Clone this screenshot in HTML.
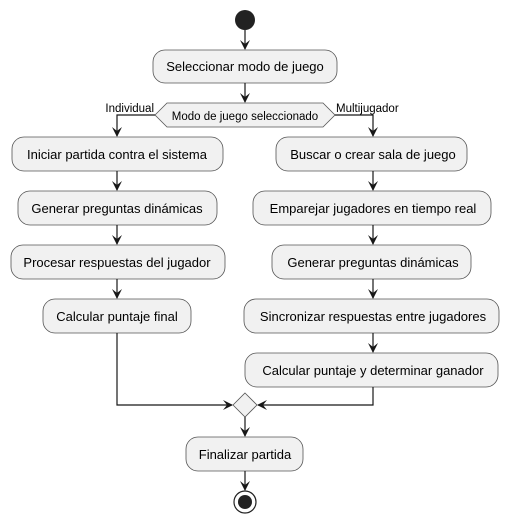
<!DOCTYPE html>
<html><head><meta charset="utf-8"><style>
html,body{margin:0;padding:0;background:#fff;}
svg{display:block;}
text{font-family:"Liberation Sans","DejaVu Sans",sans-serif;font-size:13px;fill:#000;}
.b{fill:#f1f1f1;stroke:#555;stroke-width:0.8;}
.l{stroke:#181818;stroke-width:1.2;fill:none;}
.a{fill:#181818;}
</style></head><body>
<svg width="509" height="523" viewBox="0 0 509 523" xmlns="http://www.w3.org/2000/svg">
<circle cx="245" cy="20" r="10" fill="#222"/>
<!-- arrows helper: polygon x-5,y-10 x,y x+5,y-10 x,y-6 -->
<line class="l" x1="245" y1="30" x2="245" y2="49"/>
<polygon class="a" points="240,40 245,50 250,40 245,44"/>
<rect class="b" x="153" y="50" width="184" height="33" rx="12"/>
<text x="245" y="71" text-anchor="middle">Seleccionar modo de juego</text>
<line class="l" x1="245" y1="83" x2="245" y2="102"/>
<polygon class="a" points="240,93 245,103 250,93 245,97"/>
<polygon class="b" points="155,115 167,103 323,103 335,115 323,127 167,127"/>
<text x="245" y="120" text-anchor="middle" style="font-size:11.5px">Modo de juego seleccionado</text>
<text x="154" y="112" text-anchor="end" style="font-size:11.5px">Individual</text>
<text x="336" y="112" style="font-size:11.5px">Multijugador</text>
<polyline class="l" points="155,115 117,115 117,136"/>
<polygon class="a" points="112,127 117,137 122,127 117,131"/>
<polyline class="l" points="335,115 373,115 373,136"/>
<polygon class="a" points="368,127 373,137 378,127 373,131"/>

<rect class="b" x="12" y="137" width="211" height="34" rx="12"/>
<text x="117" y="159" text-anchor="middle">Iniciar partida contra el sistema</text>
<rect class="b" x="18" y="191" width="199" height="34" rx="12"/>
<text x="117" y="213" text-anchor="middle">Generar preguntas dinámicas</text>
<rect class="b" x="11" y="245" width="214" height="34" rx="12"/>
<text x="117" y="267" text-anchor="middle">Procesar respuestas del jugador</text>
<rect class="b" x="43" y="299" width="148" height="34" rx="12"/>
<text x="117" y="321" text-anchor="middle">Calcular puntaje final</text>
<line class="l" x1="117" y1="171" x2="117" y2="190"/><polygon class="a" points="112,181 117,191 122,181 117,185"/>
<line class="l" x1="117" y1="225" x2="117" y2="244"/><polygon class="a" points="112,235 117,245 122,235 117,239"/>
<line class="l" x1="117" y1="279" x2="117" y2="298"/><polygon class="a" points="112,289 117,299 122,289 117,293"/>

<rect class="b" x="276" y="137" width="191" height="34" rx="12"/>
<text x="373" y="159" text-anchor="middle">Buscar o crear sala de juego</text>
<rect class="b" x="253" y="191" width="238" height="34" rx="12"/>
<text x="373" y="213" text-anchor="middle">Emparejar jugadores en tiempo real</text>
<rect class="b" x="272" y="245" width="199" height="34" rx="12"/>
<text x="373" y="267" text-anchor="middle">Generar preguntas dinámicas</text>
<rect class="b" x="244" y="299" width="255" height="34" rx="12"/>
<text x="373" y="321" text-anchor="middle">Sincronizar respuestas entre jugadores</text>
<rect class="b" x="245" y="353" width="253" height="34" rx="12"/>
<text x="373" y="375" text-anchor="middle">Calcular puntaje y determinar ganador</text>
<line class="l" x1="373" y1="171" x2="373" y2="190"/><polygon class="a" points="368,181 373,191 378,181 373,185"/>
<line class="l" x1="373" y1="225" x2="373" y2="244"/><polygon class="a" points="368,235 373,245 378,235 373,239"/>
<line class="l" x1="373" y1="279" x2="373" y2="298"/><polygon class="a" points="368,289 373,299 378,289 373,293"/>
<line class="l" x1="373" y1="333" x2="373" y2="352"/><polygon class="a" points="368,343 373,353 378,343 373,347"/>

<polyline class="l" points="117,333 117,405 232,405"/>
<polygon class="a" points="223,400 233,405 223,410 227,405"/>
<polyline class="l" points="373,387 373,405 258,405"/>
<polygon class="a" points="267,400 257,405 267,410 263,405"/>
<polygon class="b" points="245,393 257,405 245,417 233,405"/>
<line class="l" x1="245" y1="417" x2="245" y2="436"/><polygon class="a" points="240,427 245,437 250,427 245,431"/>
<rect class="b" x="186" y="437" width="117" height="34" rx="12"/>
<text x="245" y="459" text-anchor="middle">Finalizar partida</text>
<line class="l" x1="245" y1="471" x2="245" y2="490"/><polygon class="a" points="240,481 245,491 250,481 245,485"/>
<circle cx="245" cy="502" r="11" fill="#fff" stroke="#222" stroke-width="1.2"/>
<circle cx="245" cy="502" r="7" fill="#222"/>
</svg>
</body></html>
